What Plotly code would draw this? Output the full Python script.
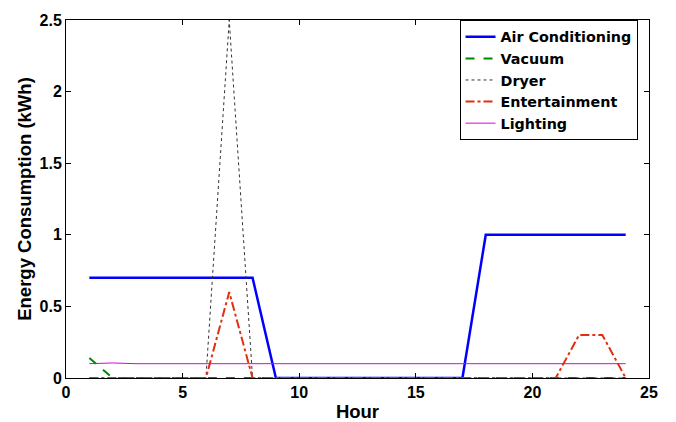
import plotly.graph_objects as go

hours = list(range(1, 25))
air_conditioning = [0.7]*8 + [0]*9 + [1]*7
vacuum = [0.14] + [0]*23
dryer = [0]*6 + [2.5] + [0]*17
entertainment = [0]*6 + [0.6] + [0]*14 + [0.3, 0.3, 0]
lighting = [0.1, 0.105, 0.1, 0.1, 0.1, 0.105, 0.105, 0.1, 0.1, 0.1, 0.1, 0.1,
            0.1, 0.105, 0.1, 0.1, 0.105, 0.1, 0.105, 0.1, 0.1, 0.1, 0.1, 0.1]

series = [
    ("Air Conditioning", air_conditioning, "#0000ff", "solid", 2.5),
    ("Vacuum", vacuum, "#008800", "dash", 2),
    ("Dryer", dryer, "#333333", "dot", 1),
    ("Entertainment", entertainment, "#e03010", "dashdot", 2),
    ("Lighting", lighting, "#dd00dd", "solid", 1),
]

fig = go.Figure()
for name, vals, color, dash, w in series:
    fig.add_trace(go.Scatter(x=hours, y=vals, mode="lines", name=name,
                             line=dict(color=color, dash=dash, width=w)))

fam = "Liberation Sans, Arial, sans-serif"
tickfont = dict(family=fam, size=16, color="black", weight="bold")
axis_common = dict(showgrid=False, zeroline=False, showline=True, linecolor="black",
                   linewidth=1, mirror="ticks", ticks="inside", ticklen=5,
                   tickcolor="black", tickfont=tickfont)

fig.update_layout(
    width=676, height=422,
    margin=dict(l=66, r=27, t=14, b=44),
    plot_bgcolor="white", paper_bgcolor="white",
    font=dict(family=fam, color="black"),
    showlegend=True,
    legend=dict(x=0.675, y=1.0, xanchor="left", yanchor="top",
                bordercolor="black", borderwidth=1, bgcolor="white",
                font=dict(family="DejaVu Sans", size=14.3, weight="bold", color="black"),
                tracegroupgap=0, itemwidth=30),
    xaxis=dict(range=[0, 25], tickvals=[0, 5, 10, 15, 20, 25], automargin=False,
               title=dict(text="Hour", font=dict(family=fam, size=18.5, weight="bold")),
               **axis_common),
    yaxis=dict(range=[0, 2.5], tickvals=[0, 0.5, 1, 1.5, 2, 2.5],
               ticktext=["0", "0.5", "1", "1.5", "2", "2.5"], automargin=True,
               title=dict(text="Energy Consumption (kWh)", standoff=3,
                          font=dict(family=fam, size=18.5, weight="bold")),
               **axis_common),
)

fig.write_html("out.html")
